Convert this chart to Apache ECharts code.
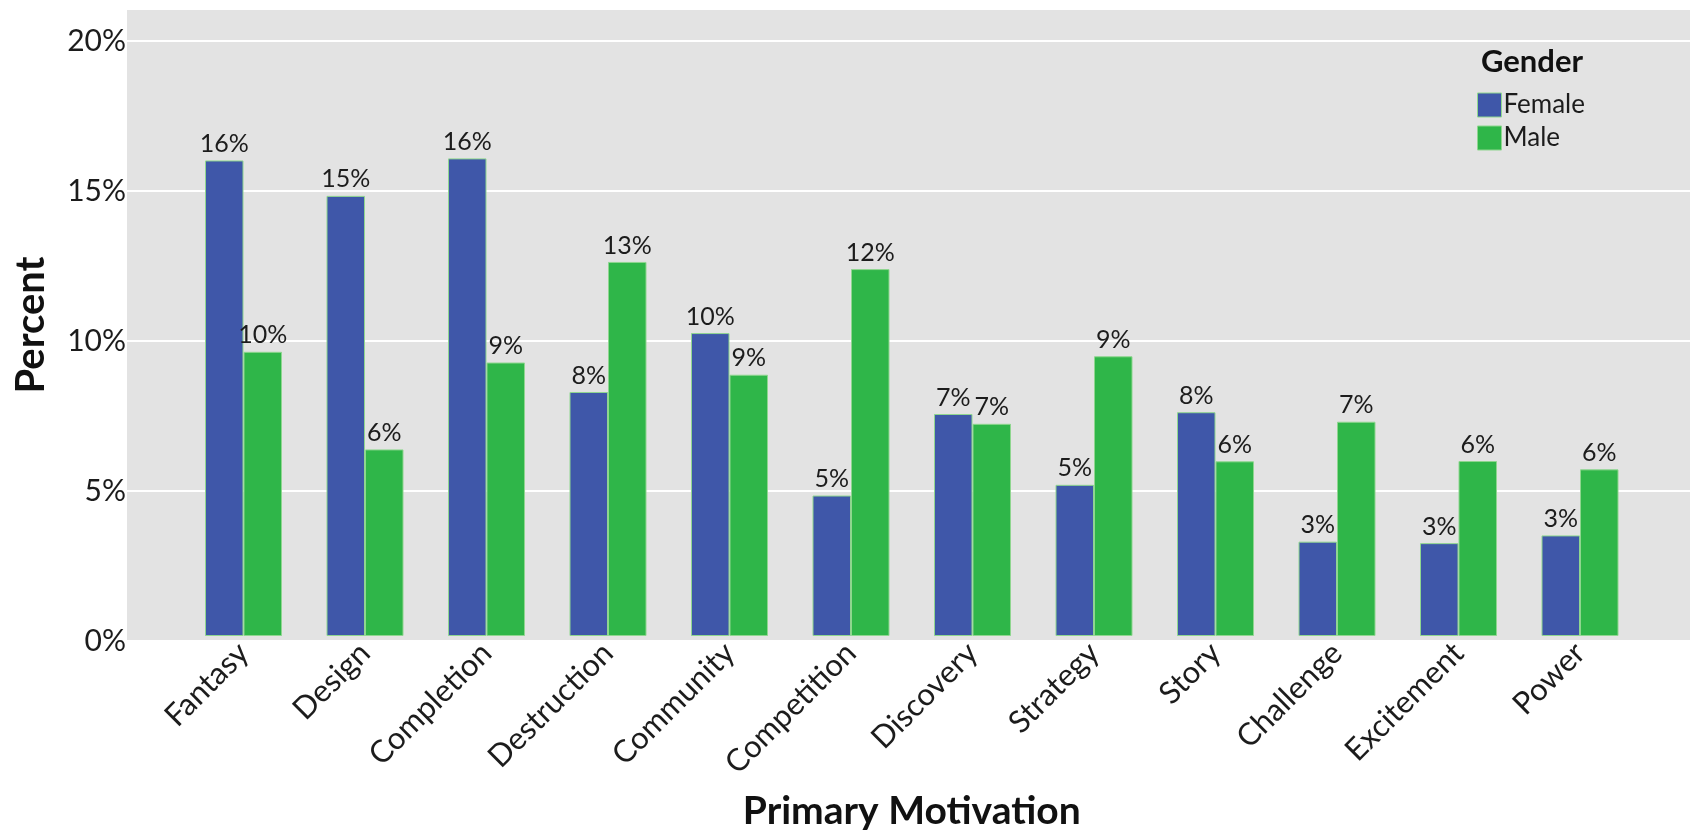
<!DOCTYPE html>
<html>
<head>
<meta charset="utf-8">
<script src="https://cdn.jsdelivr.net/npm/echarts@6/dist/echarts.min.js"></script>
<style>
  html, body { margin: 0; padding: 0; background: #ffffff; }
  #chart { width: 1690px; height: 836px; }
</style>
</head>
<body>
<div id="chart"></div>
<script>
// Primary motivation by gender, in percent of each group
const categories = ['Fantasy', 'Design', 'Completion', 'Destruction', 'Community', 'Competition',
                    'Discovery', 'Strategy', 'Story', 'Challenge', 'Excitement', 'Power'];
const female = [15.98, 14.79, 16.05, 8.2, 10.18, 4.72, 7.46, 5.08, 7.52, 3.17, 3.12, 3.38];
const male   = [9.55, 6.27, 9.19, 12.57, 8.78, 12.33, 7.13, 9.4, 5.87, 7.2, 5.88, 5.6];
const seriesNames = ['Female', 'Male'];
const yTicks = [0, 5, 10, 15, 20];

const FONT = 'Lato, "Noto Sans", sans-serif';
const TEXT = '#1c1c1c';
const Y_MAX = 21.07;

const chart = echarts.init(document.getElementById('chart'), null, { renderer: 'canvas' });

const option = {
  animation: false,
  textStyle: { fontFamily: FONT },
  title: {
    text: 'Gender',
    left: 1481,
    top: 46,
    padding: 0,
    textStyle: { fontFamily: FONT, fontWeight: 'bold', fontSize: 31, color: '#111' }
  },
  legend: {
    data: seriesNames,
    orient: 'vertical',
    icon: 'rect',
    left: 1477,
    top: 92,
    padding: 0,
    itemWidth: 24,
    itemHeight: 24,
    itemGap: 7,
    itemStyle: { borderColor: '#8fd68f', borderWidth: 1 },
    textStyle: { fontFamily: FONT, fontSize: 26, color: TEXT, padding: [0, 0, 0, -3] }
  },
  grid: [
    // full-width panel: background and horizontal grid lines
    { left: 127, right: 0, top: 9, bottom: 195, show: true, backgroundColor: '#e3e3e3', borderWidth: 0 },
    // inner band holding the bars
    { left: 182.75, right: 49.25, top: 9, bottom: 195 }
  ],
  xAxis: [
    { gridIndex: 0, type: 'value', min: 0, max: 1, show: false },
    {
      gridIndex: 1,
      type: 'category',
      data: categories,
      axisLine: { show: false },
      axisTick: { show: false },
      axisLabel: {
        rotate: 45,
        margin: 12,
        fontFamily: FONT,
        fontSize: 31,
        color: TEXT
      },
      name: 'Primary Motivation',
      nameLocation: 'middle',
      nameGap: 156,
      nameTextStyle: { fontFamily: FONT, fontWeight: 'bold', fontSize: 39, color: '#111' }
    }
  ],
  yAxis: [
    {
      gridIndex: 0,
      type: 'value',
      min: 0,
      max: Y_MAX,
      interval: 5,
      axisLine: { show: false },
      axisTick: { show: false },
      splitLine: { show: true, lineStyle: { color: '#ffffff', width: 2 } },
      axisLabel: {
        margin: 1,
        showMaxLabel: false,
        fontFamily: FONT,
        fontSize: 30,
        color: TEXT,
        formatter: v => (yTicks.indexOf(v) >= 0 ? v + '%' : '')
      },
      name: 'Percent',
      nameLocation: 'middle',
      nameGap: 76,
      nameTextStyle: { fontFamily: FONT, fontWeight: 'bold', fontSize: 40, color: '#111' }
    },
    { gridIndex: 1, type: 'value', min: 0, max: Y_MAX, show: false }
  ],
  series: [
    {
      name: seriesNames[0],
      type: 'bar',
      xAxisIndex: 1,
      yAxisIndex: 1,
      data: female,
      barWidth: 38.5,
      barGap: '0%',
      itemStyle: { color: '#3f57a9', borderColor: '#8fd68f', borderWidth: 1 },
      label: {
        show: true,
        position: 'top',
        distance: 4,
        fontFamily: FONT,
        fontSize: 25,
        color: TEXT,
        formatter: p => Math.round(p.value) + '%'
      }
    },
    {
      name: seriesNames[1],
      type: 'bar',
      xAxisIndex: 1,
      yAxisIndex: 1,
      data: male,
      barWidth: 38.5,
      barGap: '0%',
      itemStyle: { color: '#2fb649', borderColor: '#8fd68f', borderWidth: 1 },
      label: {
        show: true,
        position: 'top',
        distance: 4,
        fontFamily: FONT,
        fontSize: 25,
        color: TEXT,
        formatter: p => Math.round(p.value) + '%'
      }
    }
  ]
};

chart.setOption(option);
</script>
</body>
</html>
